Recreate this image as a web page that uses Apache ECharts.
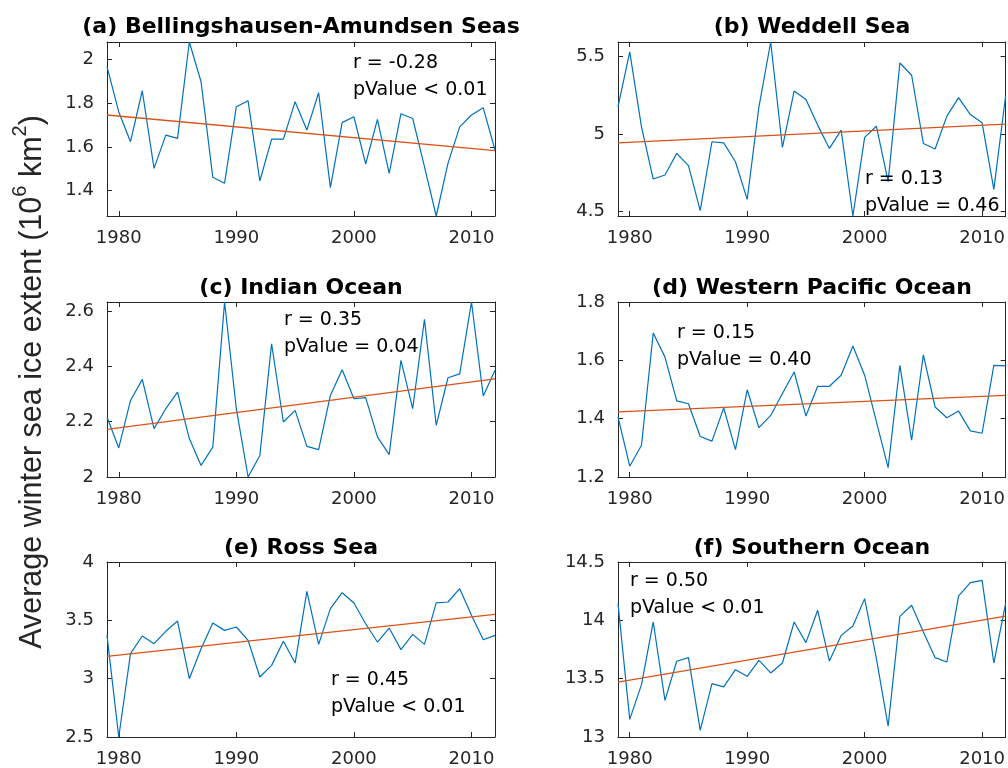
<!DOCTYPE html>
<html>
<head>
<meta charset="utf-8">
<script src="https://cdn.jsdelivr.net/npm/echarts@6/dist/echarts.min.js"></script>
<style>
html,body{margin:0;padding:0;background:#fff;}
#chart{width:1008px;height:768px;}
</style>
</head>
<body>
<div id="chart"></div>
<script>
// ---------- data ----------
const years = [1979,1980,1981,1982,1983,1984,1985,1986,1987,1988,1989,1990,1991,1992,1993,1994,1995,1996,1997,1998,1999,2000,2001,2002,2003,2004,2005,2006,2007,2008,2009,2010,2011,2012];

const bellingshausenAmundsen = [1.967,1.76,1.624,1.857,1.502,1.654,1.639,2.08,1.898,1.461,1.434,1.784,1.811,1.444,1.636,1.636,1.807,1.677,1.848,1.414,1.711,1.738,1.522,1.726,1.479,1.752,1.730,1.51,1.284,1.525,1.692,1.746,1.779,1.586];
const weddell = [5.175,5.528,5.046,4.71,4.736,4.875,4.796,4.506,4.95,4.943,4.821,4.579,5.175,5.592,4.913,5.277,5.222,5.057,4.907,5.025,4.472,4.978,5.05,4.693,5.457,5.378,4.939,4.903,5.115,5.234,5.125,5.072,4.643,5.243];
const indianOcean = [2.217,2.105,2.277,2.353,2.175,2.247,2.307,2.139,2.042,2.108,2.633,2.247,2.0,2.078,2.482,2.199,2.241,2.111,2.099,2.295,2.388,2.283,2.287,2.145,2.081,2.422,2.247,2.57,2.187,2.359,2.373,2.633,2.293,2.386];
const westernPacific = [1.406,1.237,1.309,1.694,1.611,1.461,1.451,1.339,1.323,1.437,1.294,1.499,1.369,1.411,1.486,1.56,1.409,1.511,1.511,1.549,1.649,1.549,1.39,1.232,1.583,1.326,1.619,1.44,1.403,1.426,1.358,1.35,1.583,1.581];
const rossSea = [3.371,2.5,3.214,3.366,3.3,3.406,3.494,3.0,3.257,3.477,3.414,3.443,3.329,3.014,3.114,3.32,3.134,3.749,3.294,3.6,3.737,3.649,3.471,3.314,3.434,3.249,3.38,3.294,3.649,3.657,3.771,3.543,3.334,3.371];
const southernOcean = [14.143,13.151,13.449,13.986,13.314,13.649,13.68,13.057,13.457,13.429,13.577,13.52,13.657,13.549,13.634,13.986,13.809,14.086,13.651,13.871,13.951,14.186,13.671,13.094,14.034,14.129,13.9,13.68,13.643,14.209,14.323,14.343,13.634,14.143];

// trend line end values (1979, 2012)
const trendStart = [1.746, 4.943, 2.172, 1.423, 3.191, 13.471];
const trendEnd   = [1.583, 5.063, 2.355, 1.480, 3.551, 14.037];

const panelTitles = ['(a) Bellingshausen-Amundsen Seas','(b) Weddell Sea','(c) Indian Ocean','(d) Western Pacific Ocean','(e) Ross Sea','(f) Southern Ocean'];
const rTexts = ['r = -0.28','r = 0.13','r = 0.35','r = 0.15','r = 0.45','r = 0.50'];
const pTexts = ['pValue < 0.01','pValue = 0.46','pValue = 0.04','pValue = 0.40','pValue < 0.01','pValue < 0.01'];

const xTicks = [1980,1990,2000,2010];
const yTicks = [
  [1.4,1.6,1.8,2],
  [4.5,5,5.5],
  [2,2.2,2.4,2.6],
  [1.2,1.4,1.6,1.8],
  [2.5,3,3.5,4],
  [13,13.5,14,14.5]
];
const yMin = [1.284, 4.472, 2.0, 1.2, 2.5, 13];
const yMax = [2.08, 5.592, 2.633, 1.8, 4, 14.5];
const xMin = 1979, xMax = 2012;

const allSeries = [bellingshausenAmundsen, weddell, indianOcean, westernPacific, rossSea, southernOcean];

// ---------- layout ----------
const gridPos = [
  {left:107, top:42,  width:388, height:174},
  {left:618, top:42,  width:388, height:174},
  {left:107, top:302, width:388, height:175},
  {left:618, top:302, width:388, height:175},
  {left:107, top:562, width:388, height:175},
  {left:618, top:562, width:388, height:175}
];
const titlePos = [[301,27],[812,27],[301,288],[812,288],[301,548],[812,548]];
const annPos = [[353,63],[865,179],[284,320],[677,333],[331,680],[630,581]];
const annGap = 27;

const axisColor = '#262626';
const tickFont = 'DejaVu Sans';

const grids = [], xAxes = [], yAxes = [], series = [], graphics = [];

for (let i = 0; i < 6; i++) {
  grids.push(Object.assign({containLabel:false}, gridPos[i]));
  xAxes.push({
    type:'value', gridIndex:i, min:xMin, max:xMax, position:'bottom',
    axisLine:{show:true, onZero:false, lineStyle:{color:axisColor, width:1}},
    axisTick:{show:true, inside:true, length:5, customValues:xTicks, lineStyle:{color:axisColor, width:1}},
    axisLabel:{show:true, customValues:xTicks, color:axisColor, fontSize:18, fontFamily:tickFont, margin:13, formatter:v=>String(v)},
    splitLine:{show:false}
  });
  xAxes.push({
    type:'value', gridIndex:i, min:xMin, max:xMax, position:'top',
    axisLine:{show:true, onZero:false, lineStyle:{color:axisColor, width:1}},
    axisTick:{show:true, inside:true, length:5, customValues:xTicks, lineStyle:{color:axisColor, width:1}},
    axisLabel:{show:false},
    splitLine:{show:false}
  });
  yAxes.push({
    type:'value', gridIndex:i, min:yMin[i], max:yMax[i], position:'left',
    axisLine:{show:true, onZero:false, lineStyle:{color:axisColor, width:1}},
    axisTick:{show:true, inside:true, length:5, customValues:yTicks[i], lineStyle:{color:axisColor, width:1}},
    axisLabel:{show:true, customValues:yTicks[i], color:axisColor, fontSize:18, fontFamily:tickFont, margin:13, formatter:v=>String(v)},
    splitLine:{show:false}
  });
  yAxes.push({
    type:'value', gridIndex:i, min:yMin[i], max:yMax[i], position:'right',
    axisLine:{show:true, onZero:false, lineStyle:{color:axisColor, width:1}},
    axisTick:{show:true, inside:true, length:5, customValues:yTicks[i], lineStyle:{color:axisColor, width:1}},
    axisLabel:{show:false},
    splitLine:{show:false}
  });

  const vals = allSeries[i];
  series.push({
    type:'line', xAxisIndex:2*i, yAxisIndex:2*i,
    data: years.map((y,k)=>[y, vals[k]]),
    symbol:'none', showSymbol:false,
    lineStyle:{color:'#0072BD', width:1.2},
    itemStyle:{color:'#0072BD'},
    animation:false, silent:true, z:2
  });
  series.push({
    type:'line', xAxisIndex:2*i, yAxisIndex:2*i,
    data: [[xMin, trendStart[i]], [xMax, trendEnd[i]]],
    symbol:'none', showSymbol:false,
    lineStyle:{color:'#D95319', width:1.3},
    itemStyle:{color:'#D95319'},
    animation:false, silent:true, z:3
  });

  graphics.push({
    type:'text', x:titlePos[i][0], y:titlePos[i][1], silent:true,
    style:{text:panelTitles[i], fill:'#000', fontSize:22, fontWeight:'bold', fontFamily:tickFont, align:'center', verticalAlign:'middle'}
  });
  graphics.push({
    type:'text', x:annPos[i][0], y:annPos[i][1], silent:true, z:10,
    style:{text:rTexts[i], fill:'#000', fontSize:19, fontFamily:tickFont, align:'left', verticalAlign:'middle'}
  });
  graphics.push({
    type:'text', x:annPos[i][0], y:annPos[i][1] + annGap, silent:true, z:10,
    style:{text:pTexts[i], fill:'#000', fontSize:19, fontFamily:tickFont, align:'left', verticalAlign:'middle'}
  });
}

// shared y-axis label
graphics.push({
  type:'text', x:33, y:382, rotation:Math.PI/2, silent:true,
  style:{
    text:'{n|Average winter sea ice extent (10}{s|6}{n| km}{s|2}{n|)}',
    align:'center', verticalAlign:'middle',
    rich:{
      n:{fontSize:30.5, fontFamily:'Liberation Sans', fill:'#262626', lineHeight:46},
      s:{fontSize:20, fontFamily:'Liberation Sans', fill:'#262626', lineHeight:20, verticalAlign:'top'}
    }
  }
});

const chart = echarts.init(document.getElementById('chart'), null, {renderer:'canvas'});
chart.setOption({
  backgroundColor:'#ffffff',
  animation:false,
  grid:grids,
  xAxis:xAxes,
  yAxis:yAxes,
  series:series,
  graphic:graphics
});
</script>
</body>
</html>
